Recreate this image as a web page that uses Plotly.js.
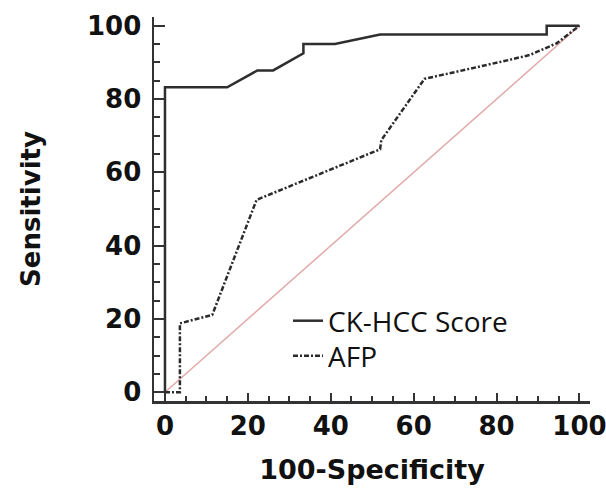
<!DOCTYPE html>
<html>
<head>
<meta charset="utf-8">
<script src="https://cdn.plot.ly/plotly-3.0.1.min.js"></script>
<style>html,body{margin:0;padding:0;background:#fff;}#chart{width:606px;height:489px;}</style>
</head>
<body>
<div id="chart"></div>
<script>
// CK-HCC Score ROC curve (100-Specificity, Sensitivity)
const ckX = [0, 0, 15.0, 22.3, 26.1, 33.4, 33.4, 41.0, 51.9, 92.1, 92.1, 100];
const ckY = [0, 83.2, 83.2, 87.8, 87.8, 92.5, 95.0, 95.0, 97.6, 97.6, 100, 100];
// AFP ROC curve
const afpX = [0, 3.6, 3.6, 11.4, 22.1, 51.9, 52.2, 62.6, 81.2, 88.0, 94.5, 100];
const afpY = [0, 0, 18.8, 21.1, 52.5, 66.3, 68.8, 85.5, 90.2, 92.0, 95.2, 100];
// reference diagonal
const refX = [0, 100];
const refY = [0, 100];
const tickVals = [0, 20, 40, 60, 80, 100];
const tickText = ['0', '20', '40', '60', '80', '100'];

const traces = [
  {x: refX, y: refY, mode: 'lines', showlegend: false, hoverinfo: 'skip',
   line: {color: '#e2a9a9', width: 1.5}},
  {x: afpX, y: afpY, mode: 'lines', name: 'AFP', legend: 'legend2',
   line: {color: '#2b2b2b', width: 2.5, dash: '5px,2px,2px,2px'}},
  {x: ckX, y: ckY, mode: 'lines', name: 'CK-HCC Score', legend: 'legend',
   line: {color: '#2e2e2e', width: 2.5}}
];

const tickFont = {family: 'DejaVu Sans', size: 26, color: '#111', weight: 'bold'};
const axisCommon = {
  showgrid: false, zeroline: false, showline: true, linecolor: '#333', linewidth: 2.5,
  ticks: 'inside', tickcolor: '#333', tickwidth: 2, tickfont: tickFont,
  tickvals: tickVals, ticktext: tickText, fixedrange: true, ticklabeloverflow: 'allow'
};

const L = 154, T = 17, W = 436, H = 384;
function legendAt(px, py) {
  return {
    x: (px - L) / W, y: 1 - (py - T) / H, xref: 'paper', yref: 'paper',
    xanchor: 'left', yanchor: 'middle',
    font: {family: 'Open Sans', size: 28, color: '#111'},
    bgcolor: 'rgba(0,0,0,0)', itemwidth: 30, borderwidth: 0
  };
}

const layout = {
  width: 606, height: 489,
  margin: {l: L, r: 16, t: T, b: 88},
  paper_bgcolor: '#fff', plot_bgcolor: '#fff',
  xaxis: Object.assign({}, axisCommon, {
    range: [-2.65, 102.55], ticklen: 8, ticklabelstandoff: 0,
    minor: {dtick: 5, tick0: 0, ticks: 'inside', ticklen: 5, tickwidth: 2, tickcolor: '#333'},
    title: {text: '100-Specificity', font: {family: 'DejaVu Sans', size: 27, color: '#111', weight: 'bold'}, standoff: 21}
  }),
  yaxis: Object.assign({}, axisCommon, {
    range: [-2.37, 102.38], ticklen: 11, ticklabelstandoff: 5,
    minor: {dtick: 5, tick0: 0, ticks: 'inside', ticklen: 6, tickwidth: 2, tickcolor: '#333'},
    title: {text: 'Sensitivity', font: {family: 'DejaVu Sans', size: 26, color: '#111', weight: 'bold'}, standoff: 39}
  }),
  legend: legendAt(288, 321),
  legend2: legendAt(288, 356)
};

Plotly.newPlot('chart', traces, layout, {displayModeBar: false, staticPlot: true});
</script>
</body>
</html>
